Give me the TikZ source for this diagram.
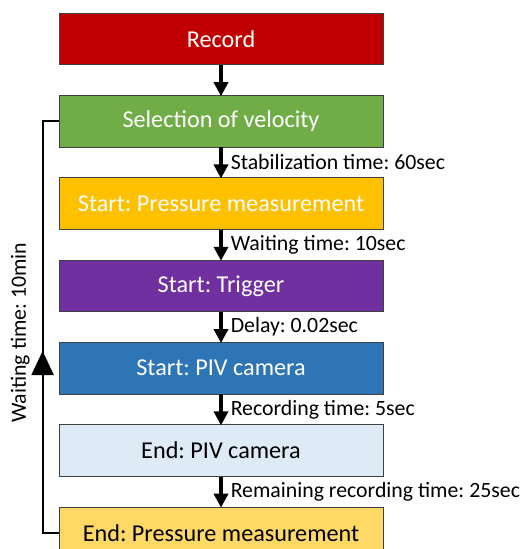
\documentclass[tikz,border=0pt]{standalone}
\usepackage{fontspec}
\setmainfont{Carlito}
\usepackage{xcolor}
\usepackage{tikz}
\usetikzlibrary{positioning,arrows.meta,decorations.markings}
\frenchspacing

\definecolor{recred}{HTML}{C00000}
\definecolor{velgreen}{HTML}{70AD47}
\definecolor{presorange}{HTML}{FFC000}
\definecolor{trigpurple}{HTML}{7030A0}
\definecolor{pivblue}{HTML}{2E75B6}
\definecolor{pivlight}{HTML}{DEEBF7}
\definecolor{presyellow}{HTML}{FFD966}

\begin{document}
\begin{tikzpicture}[
            x=1pt, y=1pt,
            font=\fontsize{21.8}{26}\selectfont,
            >={Triangle[length=14pt,width=14pt]},
            node distance=30pt,
            stage/.style={
                    draw=black!75, line width=0.8pt,
                    minimum width=324pt, minimum height=51.5pt,
                    inner sep=0pt, text=white,
                    font=\fontsize{24.2}{28}\selectfont
                },
            lbl/.style={right=8pt, inner sep=0pt},
            arr/.style={->, line width=3.5pt, shorten >=-1pt},
            back/.style={
                    line width=2.2pt,
                    postaction={decorate},
                    decoration={markings,
                            mark=at position 0.446 with {\arrow{Triangle[length=24pt,width=22pt]}}}
                },
            ]

            \useasboundingbox (0,0) rectangle (525,-549);

            \node[stage, fill=recred] (rec) at (221,-39) {Record};
            \node[stage, fill=velgreen, below=of rec] (vel) {Selection of velocity};
            \node[stage, fill=presorange, below=of vel] (pstart) {Start: Pressure measurement};
            \node[stage, fill=trigpurple, below=of pstart] (trig) {Start: Trigger};
            \node[stage, fill=pivblue, below=of trig] (pivstart) {Start: PIV camera};
            \node[stage, fill=pivlight, text=black, below=of pivstart] (pivend) {End: PIV camera};
            \node[stage, fill=presyellow, text=black, below=of pivend] (pend) {End: Pressure measurement};

            \draw[arr] (rec) -- (vel);
            \draw[arr] (vel) -- node[lbl] {Stabilization time: 60sec} (pstart);
            \draw[arr] (pstart) -- node[lbl] {Waiting time: 10sec} (trig);
            \draw[arr] (trig) -- node[lbl] {Delay: 0.02sec} (pivstart);
            \draw[arr] (pivstart) -- node[lbl] {Recording time: 5sec} (pivend);
            \draw[arr] (pivend) -- node[lbl] {Remaining recording time: 25sec} (pend);

            % loop back to the velocity selection
            \draw[back] (pend.west) -- ++(-16,0) |- node[pos=0.243, sloped, above=12pt, inner sep=0pt] {Waiting time: 10min} (vel.west);
        \end{tikzpicture}
\end{document}
